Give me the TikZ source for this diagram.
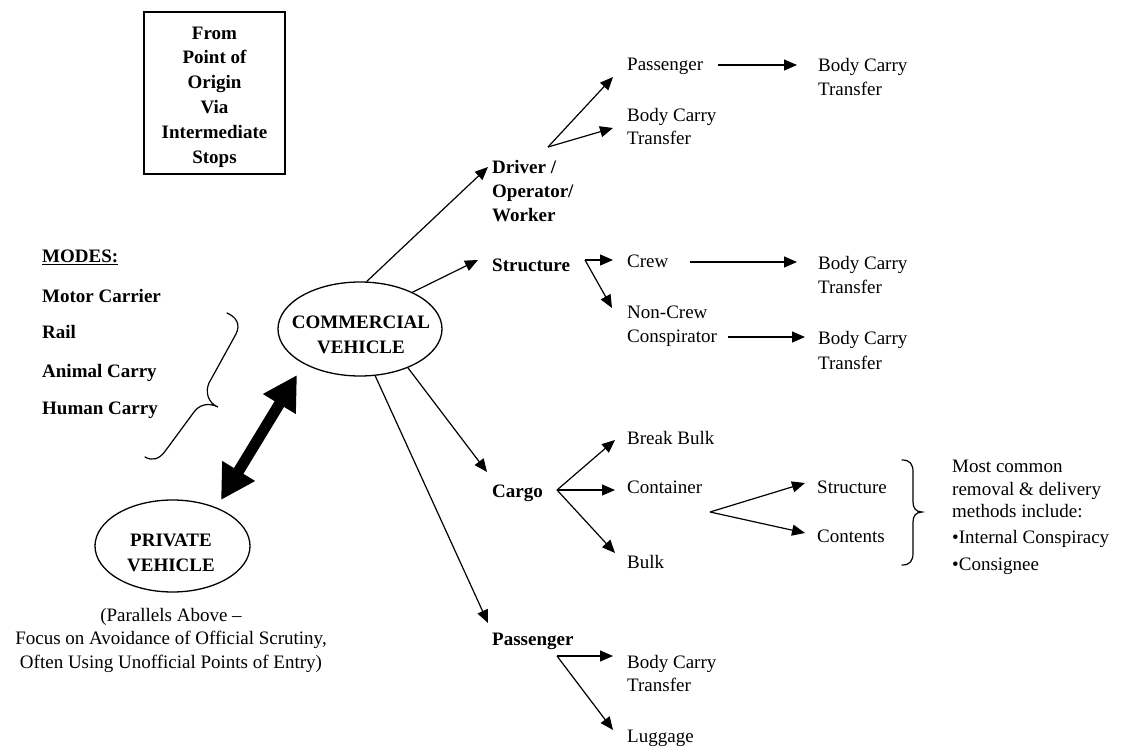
\documentclass[tikz,border=0pt]{standalone}
\usepackage{fontspec}
\setmainfont{Liberation Serif}
\usetikzlibrary{shapes.geometric,arrows.meta}
\newcommand{\dgfont}{\fontsize{19}{23.5}\selectfont}
\begin{document}
\begin{tikzpicture}[x=1pt,y=-1pt,
  lbl/.style={inner sep=0pt, anchor=north west, align=left, font=\dgfont},
  blbl/.style={lbl, font=\dgfont\bfseries},
  arr/.style={-{Triangle[length=13pt,width=11pt]}, line width=1.2pt},
  dbl/.style={{Triangle[length=34pt,width=36pt]}-{Triangle[length=34pt,width=36pt]}, line width=11pt},
  oval/.style={ellipse, draw, line width=1.3pt, inner sep=0pt},
  ovaltext/.style={inner sep=0pt, align=center, font=\fontsize{19}{25}\selectfont\bfseries},
  bracepath/.style={line width=1.2pt, line cap=round}]
\useasboundingbox (0,0) rectangle (1143,749);

% origin box
\node[draw, line width=1.4pt, minimum width=141pt, minimum height=162pt, inner sep=0pt] (orig) at (214.5,93) {};
\node[inner sep=0pt, align=center, font=\fontsize{19}{24.8}\selectfont\bfseries] (origtext) at (214.5,97)
      {From\\Point of\\Origin\\Via\\Intermediate\\Stops};

% modes list
\node[blbl] (modes) at (42,250) {\underline{MODES:}};
\node[blbl] (m1) at (42,289) {Motor Carrier};
\node[blbl] (m2) at (42,325) {Rail};
\node[blbl] (m3) at (42,364) {Animal Carry};
\node[blbl] (m4) at (42,402) {Human Carry};

% brace grouping the modes
\draw[bracepath] (227,313) .. controls (236,317) and (241,324) .. (236,334) -- (209,383)
  .. controls (205,392) and (208,403) .. (218,407)
  .. controls (208,402) and (199,405) .. (194,412) -- (166,450)
  .. controls (159,460) and (152,461) .. (145,457);

% vehicles
\node[oval, minimum width=164pt, minimum height=94pt] (cv) at (360,329) {};
\node[ovaltext] (cvlab) at (361,335) {COMMERCIAL\\VEHICLE};
\node[oval, minimum width=155pt, minimum height=92pt] (pv) at (172.5,546) {};
\node[ovaltext] (pvlab) at (171,552.5) {PRIVATE\\VEHICLE};
\node[lbl, anchor=north, align=center] (pvnote) at (171,608)
  {(Parallels Above –\\Focus on Avoidance of Official Scrutiny,\\Often Using Unofficial Points of Entry)};

\coordinate (dblA) at (297,375);
\coordinate (dblB) at (221,500);
\draw[dbl] (dblB) -- (dblA);

% first level
\node[blbl, font=\fontsize{19}{24}\selectfont\bfseries] (drv) at (492,160) {Driver /\\Operator/\\Worker};
\node[blbl] (str) at (492,259) {Structure};
\node[blbl] (cargo) at (492,485) {Cargo};
\node[blbl] (pas) at (492,633) {Passenger};

\draw[arr] (cv.82) -- ([shift={(-4,7)}]drv.north west);
\draw[arr] (cv.35) -- ([shift={(-14,1)}]str.north west);
\draw[arr] (cv.-39) -- ([shift={(-5,-13)}]cargo.north west);
\draw[arr] (cv.-72) -- ([shift={(-4,-10)}]pas.north west);

% driver branch
\node[lbl] (p1) at (627,58) {Passenger};
\node[lbl, font=\fontsize{19}{23}\selectfont] (bct1) at (627,108) {Body Carry\\Transfer};
\node[lbl, font=\fontsize{19}{24}\selectfont] (bct2) at (818,58) {Body Carry\\Transfer};
\coordinate (drvsplit) at (548,147);
\draw[arr] (drvsplit) -- ([shift={(-14,19)}]p1.north west);
\draw[arr] (drvsplit) -- ([shift={(-14,20)}]bct1.north west);
\draw[arr] ([shift={(91,7)}]p1.north west) -- ([shift={(-21,7)}]bct2.north west);

% structure branch
\node[lbl] (crew) at (627,255) {Crew};
\node[lbl, font=\fontsize{19}{24}\selectfont] (ncc) at (627,306) {Non-Crew\\Conspirator};
\node[lbl, font=\fontsize{19}{24}\selectfont] (bct3) at (818,256) {Body Carry\\Transfer};
\node[lbl, font=\fontsize{19}{25}\selectfont] (bct4) at (818,331) {Body Carry\\Transfer};
\coordinate (strsplit) at (585,260);
\draw[arr] (strsplit) -- ([shift={(-14,5)}]crew.north west);
\draw[arr] (strsplit) -- ([shift={(-15,2)}]ncc.north west);
\draw[arr] ([shift={(63,7)}]crew.north west) -- ([shift={(-21,6)}]bct3.north west);
\draw[arr] ([shift={(101,31)}]ncc.north west) -- ([shift={(-13,6)}]bct4.north west);

% cargo branch
\node[lbl] (bb) at (627,431) {Break Bulk};
\node[lbl] (cont) at (627,481) {Container};
\node[lbl] (bulk) at (627,555) {Bulk};
\coordinate (cargosplit) at (557,490);
\draw[arr] (cargosplit) -- ([shift={(-12,9)}]bb.north west);
\draw[arr] (cargosplit) -- ([shift={(-12,9)}]cont.north west);
\draw[arr] (cargosplit) -- ([shift={(-12,-2)}]bulk.north west);

\node[lbl] (stru) at (817,481) {Structure};
\node[lbl] (cnts) at (817,530) {Contents};
\coordinate (contsplit) at (710,512);
\draw[arr] (contsplit) -- ([shift={(-12,2)}]stru.north west);
\draw[arr] (contsplit) -- ([shift={(-12,3)}]cnts.north west);

% brace and removal note
\draw[bracepath] (902,460) .. controls (910,460) and (913,464) .. (913,472) -- (913,502)
  .. controls (913,508) and (916,512) .. (922,512)
  .. controls (916,512) and (913,516) .. (913,522) -- (913,553)
  .. controls (913,561) and (910,565) .. (902,565);
\node[lbl, font=\fontsize{19}{22.5}\selectfont] (note) at (952,460)
  {Most common\\removal \& delivery\\methods include:};
\node[lbl] (b1) at (952,530) {•Internal Conspiracy};
\node[lbl] (b2) at (952,558) {•Consignee};

% passenger branch
\node[lbl, font=\fontsize{19}{23}\selectfont] (bct5) at (627,655) {Body Carry\\Transfer};
\node[lbl] (lug) at (627,730) {Luggage};
\coordinate (passplit) at (557,656);
\draw[arr] (passplit) -- ([shift={(-14,1)}]bct5.north west);
\draw[arr] (passplit) -- ([shift={(-14,0)}]lug.north west);
\end{tikzpicture}
\end{document}
